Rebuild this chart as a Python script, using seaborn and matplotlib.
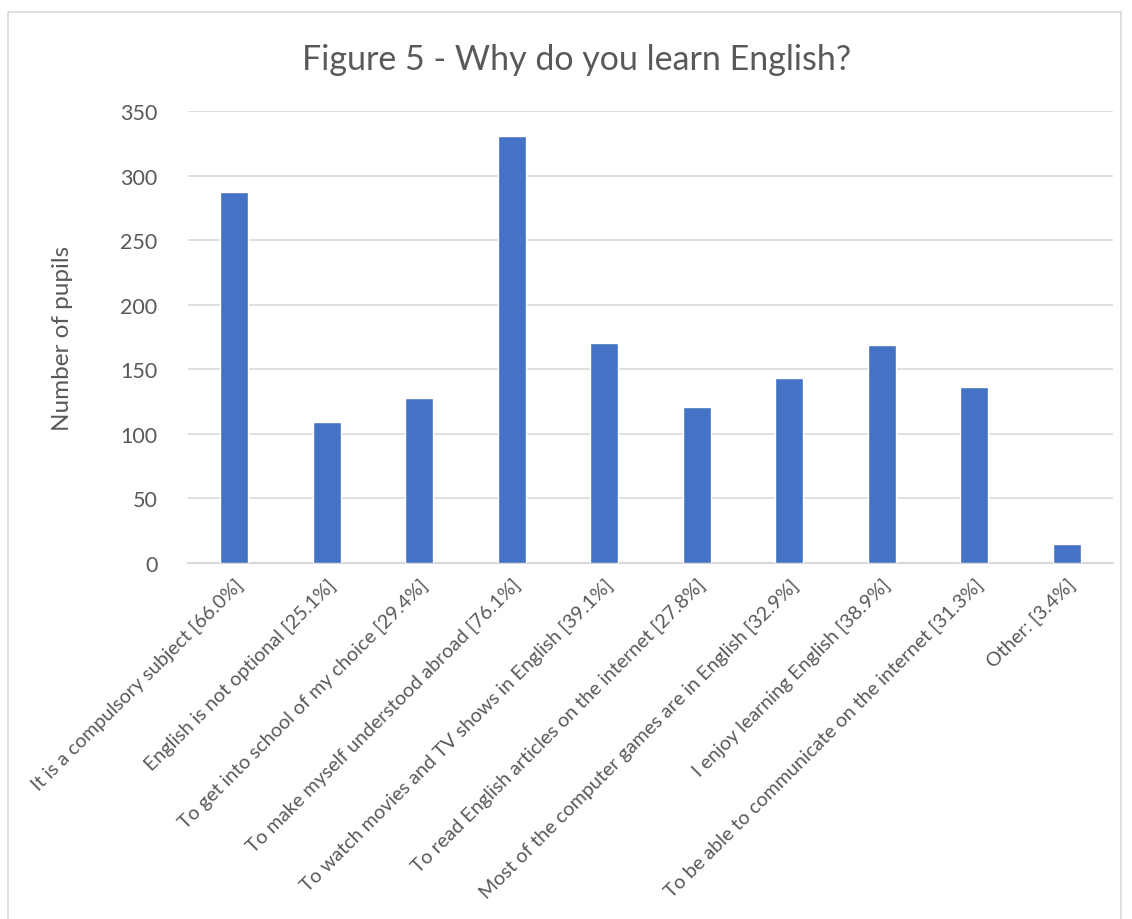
import matplotlib
matplotlib.use("Agg")
import matplotlib.pyplot as plt
import seaborn as sns
import pandas as pd
from matplotlib.patches import Rectangle

categories = [
    "It is a compulsory subject [66.0%]",
    "English is not optional [25.1%]",
    "To get into school of my choice [29.4%]",
    "To make myself understood abroad [76.1%]",
    "To watch movies and TV shows in English [39.1%]",
    "To read English articles on the internet [27.8%]",
    "Most of the computer games are in English [32.9%]",
    "I enjoy learning English [38.9%]",
    "To be able to communicate on the internet [31.3%]",
    "Other: [3.4%]",
]
pupils = [287, 109, 128, 331, 170, 121, 143, 169, 136, 15]
y_ticks = [0, 50, 100, 150, 200, 250, 300, 350]

sns.set_theme(style="white")
plt.rcParams["font.family"] = ["Lato", "DejaVu Sans"]
text_color = "#595959"

df = pd.DataFrame({"reason": categories, "pupils": pupils})

fig = plt.figure(figsize=(11.32, 9.2), dpi=100)
ax = fig.add_axes([188 / 1132, 1 - 564 / 920, (1113 - 188) / 1132, (564 - 112) / 920])

sns.barplot(data=df, x="reason", y="pupils", color="#4472C4", width=0.3,
            saturation=1, ax=ax, zorder=3)

ax.set_ylim(0, 350)
ax.set_xlim(-0.5, len(categories) - 0.5)
ax.set_yticks(y_ticks)
ax.yaxis.grid(True, color="#D9D9D9", linewidth=1.2, zorder=0)
for s in ["top", "right", "left"]:
    ax.spines[s].set_visible(False)
ax.spines["bottom"].set_color("#D9D9D9")
ax.spines["bottom"].set_linewidth(1.5)
ax.tick_params(axis="both", length=0, colors=text_color)
ax.tick_params(axis="y", pad=22, labelsize=15.5)
ax.set_xticks(range(len(categories)))
ax.set_xticklabels(categories, rotation=45, ha="right", va="top",
                   rotation_mode="anchor", fontsize=14.2, color=text_color)
ax.tick_params(axis="x", pad=9)
ax.set_xlabel("")
ax.set_ylabel("Number of pupils", fontsize=17.5, color=text_color, labelpad=34)

fig.text(577 / 1132, 1 - 60 / 920, "Figure 5 - Why do you learn English?",
         ha="center", va="center", fontsize=24.5, color=text_color)

fig.patches.append(Rectangle((8 / 1132, -0.01), (1121 - 8) / 1132, (920 - 13) / 920 + 0.01,
                             transform=fig.transFigure, fill=False,
                             edgecolor="#D9D9D9", linewidth=1.2))

fig.savefig("out.png", dpi=100)
